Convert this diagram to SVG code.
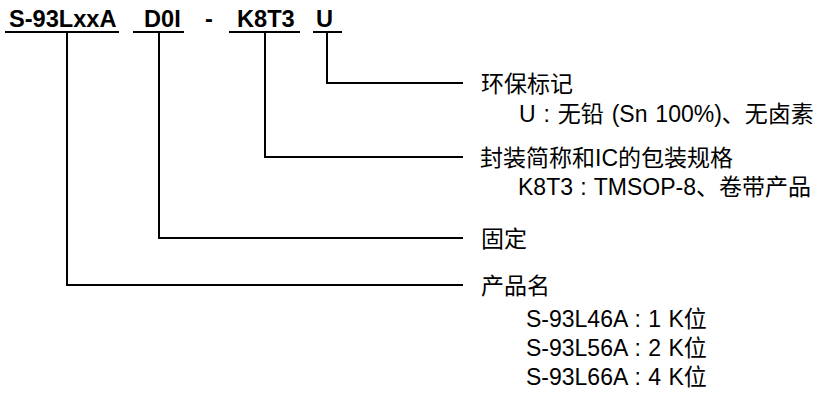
<svg xmlns="http://www.w3.org/2000/svg" width="837" height="394" viewBox="0 0 837 394">
<style>
text{font-family:"Liberation Sans","Noto Sans CJK SC",Arial,sans-serif;font-size:23px;fill:#000}
.b{font-weight:bold;font-size:23.6px}
.ln{stroke:#000;stroke-width:2;fill:none}
</style>
<rect width="837" height="394" fill="#fff"/>
<g id="code">
<text class="b" x="9" y="27">S-93LxxA</text>
<text class="b" x="144" y="27">D0I</text>
<text class="b" x="205" y="27">-</text>
<text class="b" x="237" y="27">K8T3</text>
<text class="b" x="316" y="27">U</text>
</g>
<g id="connectors">
<path class="ln" d="M5 32H119M133 32H184M229 32H300M313 32H342"/>
<path class="ln" d="M327 32V83H463"/>
<path class="ln" d="M265 32V157H463"/>
<path class="ln" d="M159 32V238H463"/>
<path class="ln" d="M67 32V285H463"/>
</g>
<g id="node-u">
<text x="481" y="91.5">环保标记</text>
<text x="519" y="122" word-spacing="1.5">U : 无铅 (Sn 100%)、无卤素</text>
</g>
<g id="node-k8t3">
<text x="480" y="165.5">封装简称和IC的包装规格</text>
<text x="518" y="195" word-spacing="1">K8T3 : TMSOP-8、卷带产品</text>
</g>
<g id="node-d0i">
<text x="481" y="246.5">固定</text>
</g>
<g id="node-name">
<text x="481" y="293.5">产品名</text>
<text x="526" y="326.5" word-spacing="1">S-93L46A : 1 K位</text>
<text x="526" y="355.5" word-spacing="1">S-93L56A : 2 K位</text>
<text x="526" y="384.5" word-spacing="1">S-93L66A : 4 K位</text>
</g>
</svg>
